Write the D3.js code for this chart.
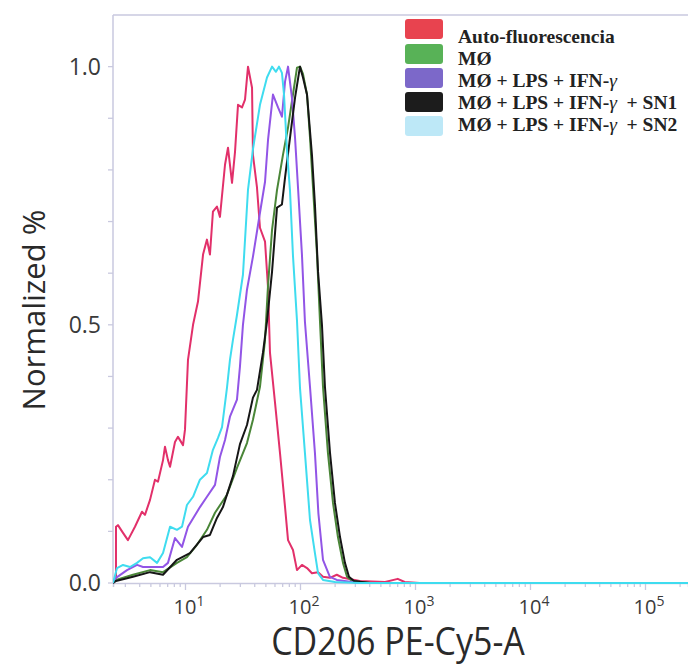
<!DOCTYPE html>
<html>
<head>
<meta charset="utf-8">
<script src="https://cdn.jsdelivr.net/npm/d3@7"></script>
<style>
  body { margin: 0; background: #fff; }
  svg { display: block; }
</style>
</head>
<body>
<svg id="chart" width="688" height="667"></svg>
<script>
// log10 of intensity, normalized count
const autoFluo = [[0.374,0],[0.40,0.006],[0.40,0.109],[0.417,0.112],[0.461,0.097],[0.504,0.083],[0.565,0.109],[0.626,0.138],[0.652,0.132],[0.696,0.161],[0.739,0.200],[0.765,0.196],[0.809,0.238],[0.826,0.264],[0.852,0.238],[0.870,0.225],[0.913,0.273],[0.939,0.283],[0.983,0.267],[1.0,0.297],[1.026,0.432],[1.070,0.50],[1.113,0.545],[1.157,0.636],[1.191,0.665],[1.217,0.636],[1.243,0.719],[1.278,0.729],[1.304,0.709],[1.348,0.810],[1.374,0.843],[1.409,0.775],[1.435,0.835],[1.461,0.926],[1.496,0.921],[1.522,0.936],[1.548,1.0],[1.583,0.959],[1.591,0.829],[1.626,0.766],[1.652,0.688],[1.696,0.661],[1.722,0.572],[1.739,0.446],[1.783,0.349],[1.826,0.252],[1.870,0.147],[1.896,0.083],[1.939,0.064],[1.974,0.025],[2.017,0.035],[2.061,0.029],[2.104,0.019],[2.157,0.021],[2.2,0.012],[2.26,0.010],[2.32,0.016],[2.374,0.010],[2.52,0.004],[2.74,0.002],[2.85,0.008],[2.91,0.002],[3.04,0],[5.4,0]]
const mo = [[0.374,0],[0.40,0.006],[0.548,0.016],[0.696,0.025],[0.809,0.021],[0.930,0.039],[1.017,0.050],[1.104,0.074],[1.191,0.103],[1.261,0.136],[1.365,0.171],[1.452,0.223],[1.539,0.271],[1.591,0.316],[1.652,0.380],[1.696,0.471],[1.722,0.576],[1.757,0.684],[1.8,0.761],[1.852,0.829],[1.896,0.882],[1.939,0.946],[1.974,0.998],[2.0,1.0],[2.026,0.986],[2.061,0.946],[2.087,0.863],[2.113,0.767],[2.148,0.636],[2.174,0.506],[2.2,0.380],[2.243,0.252],[2.287,0.155],[2.330,0.089],[2.374,0.039],[2.409,0.012],[2.452,0.004],[2.609,0],[5.4,0]]
const moLps = [[0.374,0],[0.40,0.010],[0.496,0.025],[0.583,0.035],[0.635,0.031],[0.696,0.031],[0.757,0.031],[0.809,0.031],[0.852,0.039],[0.913,0.087],[0.974,0.070],[1.026,0.109],[1.130,0.147],[1.191,0.167],[1.261,0.190],[1.304,0.244],[1.348,0.277],[1.391,0.322],[1.452,0.355],[1.478,0.419],[1.504,0.50],[1.539,0.568],[1.591,0.632],[1.652,0.717],[1.696,0.777],[1.722,0.858],[1.765,0.946],[1.809,0.921],[1.843,0.903],[1.870,0.971],[1.896,1.0],[1.930,0.940],[1.957,0.862],[1.983,0.765],[2.017,0.636],[2.043,0.506],[2.087,0.380],[2.130,0.252],[2.160,0.135],[2.2,0.045],[2.26,0.012],[2.32,0.006],[2.52,0],[5.4,0]]
const moLpsSn1 = [[0.374,0],[0.40,0.004],[0.548,0.012],[0.696,0.021],[0.809,0.016],[0.930,0.045],[1.043,0.058],[1.157,0.089],[1.217,0.093],[1.278,0.126],[1.330,0.147],[1.417,0.207],[1.478,0.269],[1.539,0.306],[1.591,0.359],[1.626,0.374],[1.678,0.446],[1.713,0.506],[1.757,0.603],[1.8,0.727],[1.843,0.733],[1.870,0.785],[1.913,0.862],[1.957,0.940],[2.0,1.0],[2.026,0.979],[2.061,0.946],[2.104,0.829],[2.130,0.733],[2.157,0.603],[2.191,0.500],[2.217,0.380],[2.261,0.252],[2.304,0.155],[2.348,0.089],[2.391,0.039],[2.426,0.012],[2.470,0.004],[2.609,0],[5.4,0]]
const moLpsSn2 = [[0.374,0],[0.409,0.029],[0.461,0.035],[0.522,0.031],[0.583,0.039],[0.635,0.048],[0.696,0.050],[0.757,0.039],[0.809,0.058],[0.870,0.109],[0.930,0.103],[0.974,0.109],[1.017,0.151],[1.070,0.167],[1.130,0.200],[1.191,0.213],[1.243,0.258],[1.287,0.281],[1.322,0.302],[1.365,0.378],[1.391,0.432],[1.417,0.471],[1.452,0.519],[1.504,0.597],[1.548,0.762],[1.591,0.84],[1.652,0.926],[1.713,0.979],[1.757,1.0],[1.791,0.99],[1.817,1.0],[1.843,0.988],[1.861,0.946],[1.887,0.837],[1.913,0.76],[1.939,0.634],[1.974,0.508],[2.0,0.378],[2.043,0.252],[2.087,0.122],[2.130,0.058],[2.157,0.019],[2.2,0.006],[2.304,0.002],[2.52,0],[5.4,0]]

const seriesNames = ["Auto-fluorescencia", "MØ", "MØ + LPS + IFN-γ", "MØ + LPS + IFN-γ  + SN1", "MØ + LPS + IFN-γ  + SN2"]
const seriesData = [autoFluo, mo, moLps, moLpsSn1, moLpsSn2]
const lineColors = ["#e2306a", "#4a8638", "#9255e6", "#161616", "#3fdcef"]
const swatchColors = ["#e8434f", "#58b257", "#7c68c9", "#1c1c1c", "#bde8f7"]
const yTickLabels = [0, 0.5, 1.0]
const decades = [1, 2, 3, 4, 5]

const svg = d3.select("#chart")
const margin = { top: 15, left: 113 }
const plotBottom = 583
const axisColor = "#c9c9df"
const labelFont = "Open Sans"

const x = d3.scaleLog().domain([Math.pow(10, 0.374), Math.pow(10, 5.374)]).range([margin.left, 688])
const y = d3.scaleLinear().domain([0, 1.1]).range([plotBottom, margin.top])

// frame
svg.append("line").attr("x1", margin.left).attr("x2", 700).attr("y1", margin.top).attr("y2", margin.top).attr("stroke", axisColor).attr("stroke-width", 1.5)
svg.append("line").attr("x1", margin.left).attr("x2", margin.left).attr("y1", margin.top).attr("y2", plotBottom).attr("stroke", axisColor).attr("stroke-width", 1.5)

// y axis ticks
const yTicks = d3.range(0, 11).map(d => d / 10)
svg.selectAll(".ytick").data(yTicks).join("line").attr("class", "ytick")
  .attr("x1", margin.left - 5).attr("x2", margin.left).attr("y1", d => y(d)).attr("y2", d => y(d))
  .attr("stroke", axisColor).attr("stroke-width", 1.3)
svg.selectAll(".ylab").data(yTickLabels).join("text").attr("class", "ylab")
  .attr("x", 101).attr("y", d => y(d)).attr("dy", "0.36em").attr("text-anchor", "end")
  .attr("font-family", labelFont).attr("font-size", 23).attr("fill", "#3a3a3a")
  .text(d => d3.format(".1f")(d))

// x axis
svg.append("g").attr("transform", "translate(0," + plotBottom + ")")
  .call(d3.axisBottom(x).tickSize(4).tickFormat(""))
  .call(g => g.select(".domain").attr("stroke", axisColor).attr("stroke-width", 1.5))
  .call(g => g.selectAll(".tick line").attr("stroke", axisColor).attr("stroke-width", 1.3)
    .attr("y2", d => Math.abs(Math.log10(d) - Math.round(Math.log10(d))) < 1e-6 ? 7 : 4))

const xl = svg.selectAll(".xlab").data(decades).join("text").attr("class", "xlab")
  .attr("x", d => x(Math.pow(10, d)) + 4).attr("y", 614).attr("text-anchor", "middle")
  .attr("font-family", labelFont).attr("font-size", 20).attr("fill", "#3a3a3a")
xl.append("tspan").text("10")
xl.append("tspan").attr("dy", -8).attr("font-size", 14).text(d => d)

// curves
const line = d3.line().x(d => x(Math.pow(10, d[0]))).y(d => y(d[1]))
svg.append("defs").append("clipPath").attr("id", "clip").append("rect")
  .attr("x", margin.left).attr("y", margin.top).attr("width", 688 - margin.left).attr("height", plotBottom - margin.top + 2)
svg.append("g").attr("clip-path", "url(#clip)").selectAll("path").data(seriesData).join("path")
  .attr("d", line).attr("fill", "none")
  .attr("stroke", (d, i) => lineColors[i]).attr("stroke-width", 2).attr("stroke-linejoin", "round")

// axis titles
svg.append("text").attr("transform", "translate(398,655) scale(1,1.12)").attr("text-anchor", "middle")
  .attr("font-family", labelFont).attr("font-size", 34).attr("fill", "#2a2a2a").text("CD206 PE-Cy5-A")
svg.append("text").attr("transform", "translate(45,310) rotate(-90)").attr("text-anchor", "middle")
  .attr("font-family", labelFont).attr("font-size", 31).attr("fill", "#2a2a2a").text("Normalized %")

// legend
const swatchTop = [19, 44, 68, 92, 116]
const textBase = [43, 65, 87, 109, 131]
const lg = svg.append("g")
lg.selectAll("rect").data(seriesNames).join("rect")
  .attr("x", 405).attr("y", (d, i) => swatchTop[i]).attr("width", 38).attr("height", 20).attr("rx", 3)
  .attr("fill", (d, i) => swatchColors[i])
const lt = lg.selectAll("text").data(seriesNames).join("text")
  .attr("x", 458).attr("y", (d, i) => textBase[i])
  .attr("font-family", "Liberation Serif").attr("font-weight", "bold").attr("font-size", 19.5).attr("fill", "#222")
lt.each(function (d) {
  const t = d3.select(this)
  const parts = d.split("γ")
  t.append("tspan").text(parts[0])
  if (parts.length > 1) {
    t.append("tspan").attr("font-style", "italic").attr("font-weight", "normal").text("γ")
    t.append("tspan").text(parts[1].replace("  ", "\u00a0\u00a0"))
  }
})
</script>
</body>
</html>
